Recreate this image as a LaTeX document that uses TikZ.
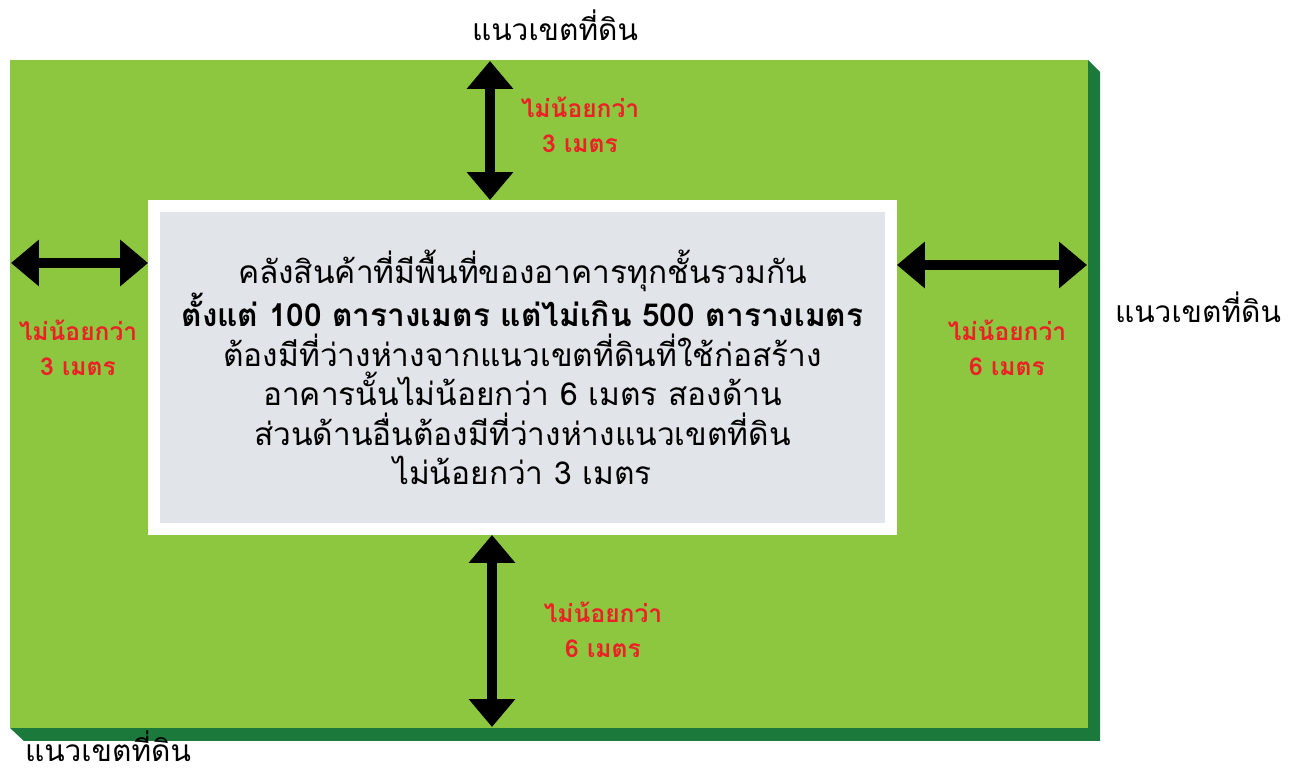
\documentclass[tikz,border=0pt]{standalone}
\usepackage{fontspec}
\newfontfamily\thaifont[Script=Thai]{Loma}
\usetikzlibrary{arrows.meta,positioning}
\definecolor{lotgreen}{RGB}{141,198,63}
\definecolor{lotshade}{RGB}{27,122,59}
\definecolor{bldggray}{RGB}{225,228,232}
\definecolor{gapred}{RGB}{236,32,39}
\tikzset{
  gaplabel/.style={font=\thaifont\bfseries\fontsize{14}{20}\selectfont,text=gapred,align=center},
  linelabel/.style={font=\thaifont\fontsize{17}{20}\selectfont,inner sep=1pt},
  gaparrow/.style={line width=0.2cm,
    {Triangle[length=0.56cm,width=0.9cm]}-{Triangle[length=0.56cm,width=0.9cm]}}
}

\begin{document}
\begin{tikzpicture}[x=0.02cm,y=-0.02cm]
  \useasboundingbox (0,0) rectangle (1296,776);

  % lot with its dark edge
  \coordinate (lotnw) at (10,60);
  \coordinate (lotse) at (1088,728);
  \fill[lotshade] (1088,60) -- (1100,72) -- (1100,741) -- (24,741) -- (10,728) -- cycle;
  \fill[lotgreen] (lotnw) rectangle (lotse);

  % building
  \node[draw=white,line width=0.24cm,fill=bldggray,inner sep=0pt,
        minimum width=14.74cm,minimum height=6.46cm,
        font=\thaifont\fontsize{18}{22.5}\selectfont,align=center] (bldg) at (522.5,367.5)
    {คลังสินค้าที่มีพื้นที่ของอาคารทุกชั้นรวมกัน\\
     \textbf{ตั้งแต่ 100 ตารางเมตร แต่ไม่เกิน 500 ตารางเมตร}\\
     ต้องมีที่ว่างห่างจากแนวเขตที่ดินที่ใช้ก่อสร้าง\\
     อาคารนั้นไม่น้อยกว่า 6 เมตร สองด้าน\\
     ส่วนด้านอื่นต้องมีที่ว่างห่างแนวเขตที่ดิน\\
     ไม่น้อยกว่า 3 เมตร};

  % set-back arrows
  \coordinate (topgap) at (490,61);
  \coordinate (leftgap) at (11,263);
  \coordinate (rightgap) at (1087,265);
  \coordinate (botgap) at (492,727);
  \draw[gaparrow] (topgap) -- (topgap |- bldg.north);
  \draw[gaparrow] (leftgap) -- (leftgap -| bldg.west);
  \draw[gaparrow] (rightgap) -- (rightgap -| bldg.east);
  \draw[gaparrow] (botgap) -- (botgap |- bldg.south);

  \node[gaplabel] (toplab) at (580,125) {ไม่น้อยกว่า\\3 เมตร};
  \node[gaplabel] (leftlab) at (78,348) {ไม่น้อยกว่า\\3 เมตร};
  \node[gaplabel] (rightlab) at (1007,348) {ไม่น้อยกว่า\\6 เมตร};
  \node[gaplabel] (botlab) at (603,630) {ไม่น้อยกว่า\\6 เมตร};

  % boundary names
  \node[linelabel] (topline) at (555,25) {แนวเขตที่ดิน};
  \node[linelabel] (rightline) at (1198,307) {แนวเขตที่ดิน};
  \node[linelabel,anchor=base] (botline) at (108,762) {แนวเขตที่ดิน};
\end{tikzpicture}
\end{document}
